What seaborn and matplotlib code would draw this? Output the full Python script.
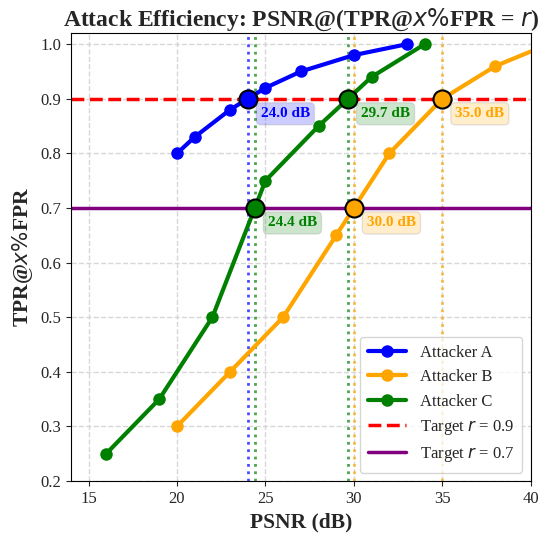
import numpy as np
import pandas as pd
import matplotlib
matplotlib.use("Agg")
import matplotlib.pyplot as plt
import seaborn as sns

# PSNR (dB) vs TPR@x%FPR for each attacker
psnr_a = [20, 21, 23, 25, 27, 30, 33]
tpr_a = [0.80, 0.83, 0.88, 0.92, 0.95, 0.98, 1.00]

psnr_b = [20, 23, 26, 29, 32, 35, 38, 41]
tpr_b = [0.30, 0.40, 0.50, 0.65, 0.80, 0.90, 0.96, 1.00]

psnr_c = [16, 19, 22, 25, 28, 31, 34]
tpr_c = [0.25, 0.35, 0.50, 0.75, 0.85, 0.94, 1.00]

attackers = ["Attacker A", "Attacker B", "Attacker C"]
colors = ["blue", "orange", "green"]

# target TPR levels and the curves that reach them inside the plot
target_hi = 0.9
target_lo = 0.7
crossings = [
    ("Attacker A", target_hi),
    ("Attacker B", target_hi),
    ("Attacker C", target_hi),
    ("Attacker B", target_lo),
    ("Attacker C", target_lo),
]

sns.set_style("ticks")
plt.rcParams["font.family"] = ["Liberation Serif", "DejaVu Sans"]
plt.rcParams["mathtext.fontset"] = "dejavusans"

fig = plt.figure(figsize=(5.45, 5.33), dpi=100)
ax = fig.add_axes([0.130, 0.0976, 0.844, 0.840])

series = {
    "Attacker A": (psnr_a, tpr_a),
    "Attacker B": (psnr_b, tpr_b),
    "Attacker C": (psnr_c, tpr_c),
}
color_of = dict(zip(attackers, colors))

for name in attackers:
    x, y = series[name]
    df = pd.DataFrame({"PSNR": x, "TPR": y})
    sns.lineplot(data=df, x="PSNR", y="TPR", ax=ax, color=color_of[name],
                 marker="o", markersize=9, markeredgewidth=0, linewidth=3,
                 label=name, zorder=3)

ax.axhline(target_hi, color="red", linestyle="--", linewidth=2.5,
           label=r"Target $r$ = 0.9", zorder=2)
ax.axhline(target_lo, color="purple", linestyle="-", linewidth=2.5,
           label=r"Target $r$ = 0.7", zorder=2)

for name, level in crossings:
    x, y = series[name]
    c = color_of[name]
    px = float(np.interp(level, y, x))
    ax.axvline(px, color=c, linestyle=":", linewidth=2, alpha=0.7, zorder=1.5)
    ax.plot([px], [level], marker="o", markersize=13, color=c,
            markeredgecolor="black", markeredgewidth=1.5, zorder=5)
    ax.annotate(f"{px:.1f} dB", xy=(px, level), xytext=(13, -15),
                textcoords="offset pixels", ha="left", va="center",
                fontsize=11, fontweight="bold", color=c, zorder=6,
                bbox=dict(boxstyle="round,pad=0.3", facecolor=c, alpha=0.2,
                          edgecolor="gray"))

ax.set_xlim(14, 40)
ax.set_ylim(0.2, 1.02)
ax.set_xticks([15, 20, 25, 30, 35, 40])
ax.set_yticks(np.arange(0.2, 1.01, 0.1))
ax.set_yticklabels([f"{v:.1f}" for v in np.arange(0.2, 1.01, 0.1)])
ax.tick_params(labelsize=12)
ax.grid(True, linestyle="--", color="lightgray", linewidth=1, alpha=0.9)
ax.set_axisbelow(True)
for s in ax.spines.values():
    s.set_visible(True)
    s.set_color("black")

ax.set_xlabel("PSNR (dB)", fontsize=15.5, fontweight="bold")
ax.set_ylabel(r"TPR@$x\%$FPR", fontsize=15.5, fontweight="bold")
ax.set_title(r"Attack Efficiency: PSNR@(TPR@$x\%$FPR = $r$)",
             fontsize=17, fontweight="bold", pad=5)

ax.legend(loc="lower right", fontsize=12, frameon=True, framealpha=0.8,
          borderpad=0.5, handlelength=2.3)

fig.savefig("out.png", dpi=100)
